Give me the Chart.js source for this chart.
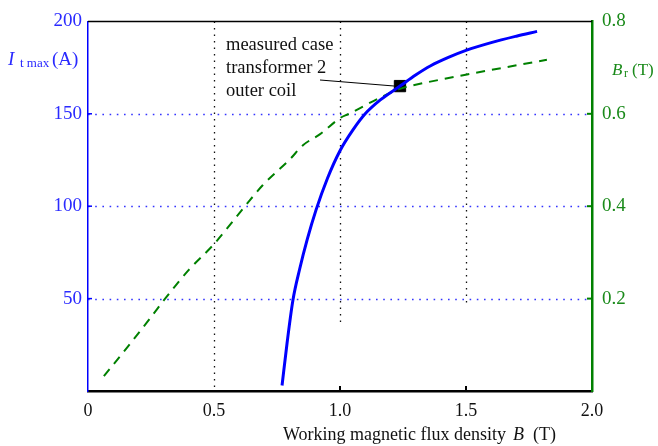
<!DOCTYPE html>
<html>
<head>
<meta charset="utf-8">
<script src="https://cdn.jsdelivr.net/npm/chart.js@4.4.0/dist/chart.umd.min.js"></script>
<style>
html, body { margin: 0; padding: 0; background: #fff; }
</style>
</head>
<body>
<canvas id="myChart" width="658" height="446"></canvas>
<script>
// I_t max (A) against working flux density B (T)
const fluxB = [0.770, 0.790, 0.813, 0.840, 0.870, 0.905, 0.950, 1.000, 1.050, 1.100, 1.160, 1.238, 1.300, 1.360, 1.430, 1.500, 1.600, 1.700, 1.782];
const currentMax = [3, 26, 49, 66, 82, 98, 115, 130, 141, 150, 157.5, 165, 171, 176, 180.5, 184.3, 188.5, 192, 194.6];

// remanent flux density B_r (T) against B (T)
const remB = [0.063, 0.155, 0.246, 0.306, 0.400, 0.500, 0.623, 0.694, 0.802, 0.853, 0.921, 1.004, 1.032, 1.159, 1.238, 1.286, 1.504, 1.821];
const remBr = [0.032, 0.094, 0.157, 0.200, 0.262, 0.318, 0.400, 0.446, 0.502, 0.532, 0.556, 0.592, 0.599, 0.635, 0.654, 0.661, 0.685, 0.717];

// measured case, transformer 2 outer coil
const measuredB = [1.238];
const measuredI = [165];
const noteLines = ['measured case', 'transformer 2', 'outer coil'];

const xTicks = [0, 0.5, 1.0, 1.5, 2.0];
const leftTicks = [50, 100, 150, 200];
const rightTicks = [0.2, 0.4, 0.6, 0.8];
// dotted verticals: x value and where each one stops (left axis units)
const guideX = [0.5, 1.0, 1.5];
const guideEnd = [0, 35, 46];
// dotted horizontals (left axis units)
const guideY = [50, 100, 150];

const BLUE = '#0000ff';
const BLUE_TXT = '#2a2aff';
const GREEN = '#008000';
const GREEN_TXT = '#1a8a1a';
const SERIF = '"Liberation Serif", "Times New Roman", serif';

const toXY = (xs, ys) => xs.map((v, i) => ({ x: v, y: ys[i] }));

const extras = {
  id: 'extras',
  beforeDatasetsDraw(chart) {
    const { ctx, chartArea: a, scales } = chart;
    const x = scales.x, yl = scales.yLeft;
    ctx.save();
    ctx.lineWidth = 1.3;
    ctx.strokeStyle = '#111';
    ctx.setLineDash([1.5, 5]);
    guideX.forEach((g, i) => {
      const px = Math.round(x.getPixelForValue(g)) + 0.5;
      ctx.beginPath();
      ctx.moveTo(px, a.top);
      ctx.lineTo(px, yl.getPixelForValue(guideEnd[i]));
      ctx.stroke();
    });
    ctx.strokeStyle = 'rgba(30,30,255,0.9)';
    ctx.setLineDash([1.6, 5.6]);
    guideY.forEach(g => {
      const py = Math.round(yl.getPixelForValue(g)) + 0.5;
      ctx.beginPath();
      ctx.moveTo(a.left, py);
      ctx.lineTo(a.right, py);
      ctx.stroke();
    });
    ctx.restore();
  },
  afterDraw(chart) {
    const { ctx, chartArea: a, scales } = chart;
    const x = scales.x, yl = scales.yLeft, yr = scales.yRight;
    ctx.save();
    // top frame line
    ctx.strokeStyle = '#000';
    ctx.lineWidth = 1.5;
    ctx.beginPath();
    ctx.moveTo(a.left, a.top);
    ctx.lineTo(a.right, a.top);
    ctx.stroke();

    // short inward tick marks
    ctx.lineWidth = 1.5;
    ctx.strokeStyle = BLUE;
    leftTicks.slice(0, 3).forEach(v => {
      const py = yl.getPixelForValue(v);
      ctx.beginPath(); ctx.moveTo(a.left, py); ctx.lineTo(a.left + 4, py); ctx.stroke();
    });
    ctx.strokeStyle = GREEN;
    ctx.lineWidth = 2;
    rightTicks.slice(0, 3).forEach(v => {
      const py = yr.getPixelForValue(v);
      ctx.beginPath(); ctx.moveTo(a.right, py); ctx.lineTo(a.right - 5, py); ctx.stroke();
    });
    ctx.strokeStyle = '#000';
    [1.0, 1.5].forEach(v => {
      const px = x.getPixelForValue(v);
      ctx.beginPath(); ctx.moveTo(px, a.bottom); ctx.lineTo(px, a.bottom - 5); ctx.stroke();
    });

    // note with leader line to the measured point
    const mx = x.getPixelForValue(measuredB[0]);
    const my = yl.getPixelForValue(measuredI[0]);
    ctx.strokeStyle = '#000';
    ctx.lineWidth = 1;
    ctx.beginPath();
    ctx.moveTo(320, 80);
    ctx.lineTo(mx - 5, my);
    ctx.stroke();
    ctx.fillStyle = '#111';
    ctx.font = '18.5px ' + SERIF;
    ctx.textBaseline = 'alphabetic';
    noteLines.forEach((t, i) => ctx.fillText(t, 226, 50 + i * 23));

    // left axis title: I_t max (A)
    ctx.fillStyle = BLUE_TXT;
    ctx.font = 'italic 19px ' + SERIF;
    ctx.fillText('I', 8, 65);
    ctx.font = '13px ' + SERIF;
    ctx.fillText('t max', 20, 67);
    ctx.font = '19px ' + SERIF;
    ctx.fillText('(A)', 52, 65);

    // right axis title: B_r (T)
    ctx.fillStyle = GREEN_TXT;
    ctx.font = 'italic 17px ' + SERIF;
    ctx.fillText('B', 612, 75);
    ctx.font = '12px ' + SERIF;
    ctx.fillText('r', 624, 77);
    ctx.font = '17px ' + SERIF;
    ctx.fillText('(T)', 632, 75);

    // x axis title
    ctx.fillStyle = '#111';
    ctx.font = '18px ' + SERIF;
    ctx.fillText('Working magnetic flux density', 283, 440);
    ctx.font = 'italic 18px ' + SERIF;
    ctx.fillText('B', 513, 440);
    ctx.font = '18px ' + SERIF;
    ctx.fillText('(T)', 533, 440);
    ctx.restore();
  }
};

new Chart('myChart', {
  type: 'scatter',
  data: {
    datasets: [
      {
        label: 'I_t max',
        data: toXY(fluxB, currentMax),
        yAxisID: 'yLeft',
        showLine: true,
        borderColor: BLUE,
        borderWidth: 3,
        pointRadius: 0,
        cubicInterpolationMode: 'monotone'
      },
      {
        label: 'B_r',
        data: toXY(remB, remBr),
        yAxisID: 'yRight',
        showLine: true,
        borderColor: GREEN,
        borderWidth: 2,
        borderDash: [9, 7],
        pointRadius: 0,
        cubicInterpolationMode: 'monotone'
      },
      {
        label: 'measured',
        data: toXY(measuredB, measuredI),
        yAxisID: 'yLeft',
        pointStyle: 'rect',
        pointRadius: 8,
        backgroundColor: '#000',
        borderColor: '#000',
        borderWidth: 1
      }
    ]
  },
  options: {
    responsive: false,
    animation: false,
    layout: { padding: { top: 18, left: 0, right: 0, bottom: 0 } },
    plugins: { legend: { display: false }, tooltip: { enabled: false } },
    scales: {
      x: {
        type: 'linear',
        min: 0, max: 2,
        afterFit: s => { s.height = 55; },
        afterBuildTicks: s => { s.ticks = xTicks.map(v => ({ value: v })); },
        border: { color: '#000', width: 2.5 },
        grid: { display: false, drawTicks: false },
        ticks: {
          color: '#111',
          padding: 9,
          font: { family: SERIF, size: 18 },
          callback: v => (v === 0 ? '0' : v.toFixed(1))
        }
      },
      yLeft: {
        type: 'linear',
        position: 'left',
        min: 0, max: 200,
        afterFit: s => { s.width = 88; },
        afterBuildTicks: s => { s.ticks = [0].concat(leftTicks).map(v => ({ value: v })); },
        border: { color: BLUE, width: 1.5 },
        grid: { display: false, drawTicks: false },
        ticks: {
          color: BLUE_TXT,
          padding: 6,
          font: { family: SERIF, size: 19 },
          callback: v => (v === 0 ? '' : String(v))
        }
      },
      yRight: {
        type: 'linear',
        position: 'right',
        min: 0, max: 0.8,
        afterFit: s => { s.width = 66; },
        afterBuildTicks: s => { s.ticks = [0].concat(rightTicks).map(v => ({ value: v })); },
        border: { color: GREEN, width: 2.5 },
        grid: { display: false, drawTicks: false },
        ticks: {
          color: GREEN_TXT,
          padding: 10,
          font: { family: SERIF, size: 19 },
          callback: v => (v === 0 ? '' : v.toFixed(1))
        }
      }
    }
  },
  plugins: [extras]
});
</script>
</body>
</html>
